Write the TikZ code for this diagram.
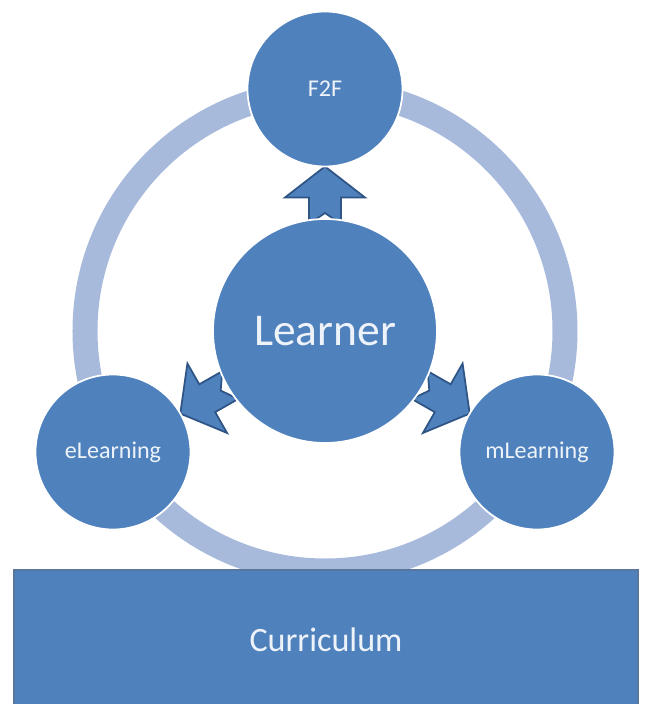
\documentclass[tikz,border=0pt]{standalone}
\usepackage{fontspec}
\setmainfont{Carlito}
\usetikzlibrary{calc,backgrounds}

\definecolor{hubblue}{HTML}{4F81BD}
\definecolor{ringblue}{HTML}{A8BADB}
\definecolor{edgeblue}{HTML}{2F5486}
\definecolor{labelwhite}{HTML}{EEF3FA}

% fat notched arrow from #1 to the border of #2 (radius #3)
\newcommand{\learnarrow}[3]{%
  \coordinate (tip) at ($(#2)!#3!(#1)$);
  \coordinate (base) at ($(tip)!0.62cm!(#1)$);
  \coordinate (tail) at ($(tip)!1.15cm!(#1)$);
  \draw[arrowbody] (tip)
    -- ($(base)!0.8cm!90:(#2)$) -- ($(base)!0.32cm!90:(#2)$)
    -- ($(tail)!0.32cm!90:(#2)$) -- ($(tail)!0.22cm!(#2)$)
    -- ($(tail)!0.32cm!-90:(#2)$) -- ($(base)!0.32cm!-90:(#2)$)
    -- ($(base)!0.8cm!-90:(#2)$) -- cycle;
}

\begin{document}
\begin{tikzpicture}

\tikzstyle{hub} = [circle,fill=hubblue,draw=white,line width=1pt,text=labelwhite,inner sep=0];
\tikzstyle{mode} = [hub,minimum size=3.1cm,font=\fontsize{13.7}{16}\selectfont];
\tikzstyle{arrowbody} = [fill=hubblue,draw=edgeblue,line width=1pt,line join=miter];
\tikzstyle{base} = [rectangle,fill=hubblue,draw=edgeblue!80,line width=1.2pt,text=labelwhite,
  minimum width=12.48cm,minimum height=2.8cm,font=\fontsize{19.4}{22}\selectfont];

\clip (-6.5,-7.46) rectangle (6.4,6.62);

\node[hub,minimum size=4.48cm,font=\fontsize{25.9}{30}\selectfont] (learner) at (0,0) {Learner};
\node[mode] (f2f) at (0,4.84) {F2F};
\node[mode] (elearn) at (-4.24,-2.42) {eLearning};
\node[mode] (mlearn) at (4.24,-2.42) {mLearning};

\begin{scope}[on background layer]
  \draw[ringblue,line width=0.5cm] (learner) circle (4.8);
  \learnarrow{learner}{f2f}{1.55cm}
  \learnarrow{learner}{elearn}{1.55cm}
  \learnarrow{learner}{mlearn}{1.55cm}
\end{scope}

\node[base] (curric) at (0.02,-6.18) {Curriculum};

\end{tikzpicture}
\end{document}
